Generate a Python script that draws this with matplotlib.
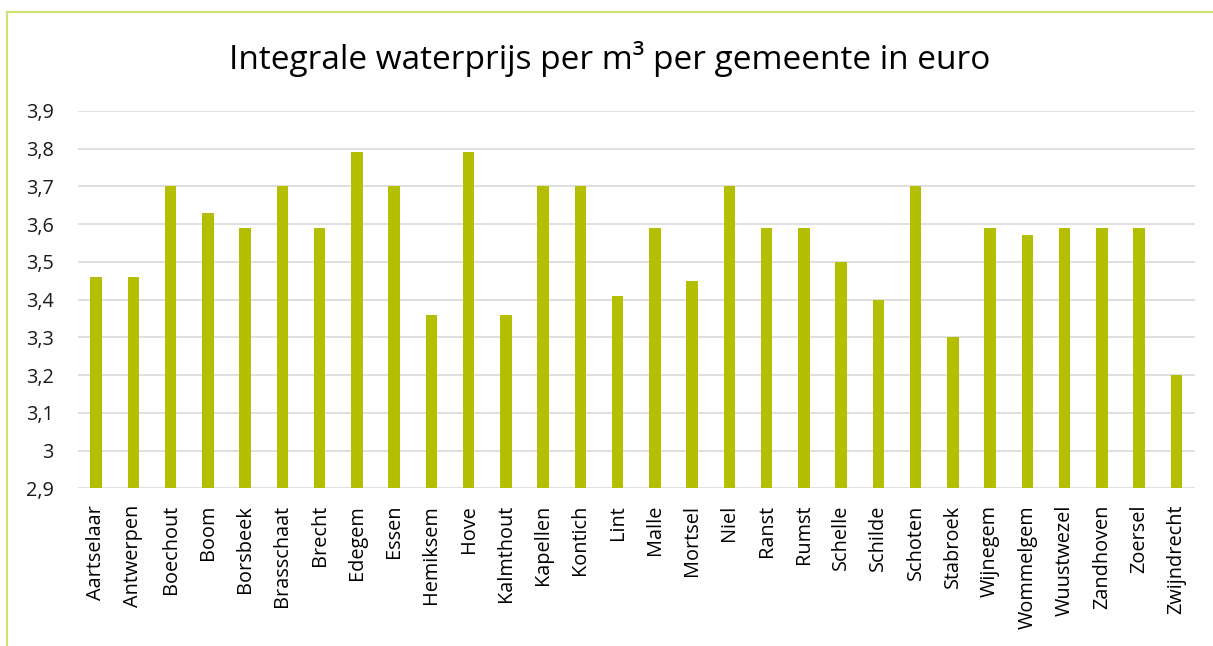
import matplotlib.pyplot as plt
from matplotlib.lines import Line2D

# water price per m3 per municipality (euro)
gemeenten = ["Aartselaar", "Antwerpen", "Boechout", "Boom", "Borsbeek", "Brasschaat",
             "Brecht", "Edegem", "Essen", "Hemiksem", "Hove", "Kalmthout", "Kapellen",
             "Kontich", "Lint", "Malle", "Mortsel", "Niel", "Ranst", "Rumst", "Schelle",
             "Schilde", "Schoten", "Stabroek", "Wijnegem", "Wommelgem", "Wuustwezel",
             "Zandhoven", "Zoersel", "Zwijndrecht"]
prijs = [3.46, 3.46, 3.70, 3.63, 3.59, 3.70,
         3.59, 3.79, 3.70, 3.36, 3.79, 3.36, 3.70,
         3.70, 3.41, 3.59, 3.45, 3.70, 3.59, 3.59, 3.50,
         3.40, 3.70, 3.30, 3.59, 3.57, 3.59,
         3.59, 3.59, 3.20]
yticks = [2.9, 3.0, 3.1, 3.2, 3.3, 3.4, 3.5, 3.6, 3.7, 3.8, 3.9]
ylabels = ["2,9", "3", "3,1", "3,2", "3,3", "3,4", "3,5", "3,6", "3,7", "3,8", "3,9"]

plt.rcParams['font.family'] = ['Open Sans', 'DejaVu Sans']

fig = plt.figure(figsize=(12.13, 6.46), dpi=100)
ax = fig.add_axes([0.0639, 0.2441, 0.9212, 0.5844])

x = range(len(gemeenten))
ax.bar(x, prijs, width=0.31, color="#B3BF00", zorder=3)

ax.set_xlim(-0.5, len(gemeenten) - 0.5)
ax.set_ylim(2.9, 3.9)
ax.set_yticks(yticks)
ax.set_yticklabels(ylabels, fontsize=14.3, color="#1a1a1a")
ax.set_xticks(list(x))
ax.set_xticklabels(gemeenten, rotation=90, fontsize=14.3, color="#000000")
ax.tick_params(length=0)
ax.tick_params(axis="x", pad=12)
ax.tick_params(axis="y", pad=17)
ax.grid(axis="y", color="#D9D9D9", linewidth=1.2, zorder=0)
for s in ax.spines.values():
    s.set_visible(False)

fig.text(0.503, 0.908, "Integrale waterprijs per m³ per gemeente in euro",
         ha="center", va="center", fontsize=24, color="#000000")

# chart border (left and top only visible)
fig.add_artist(Line2D([0.0058, 0.0058], [0.0, 0.981], color="#D3DF6E", linewidth=1.5,
                      transform=fig.transFigure))
fig.add_artist(Line2D([0.0058, 1.0], [0.981, 0.981], color="#D3DF6E", linewidth=1.5,
                      transform=fig.transFigure))

fig.savefig("out.png", dpi=100)
